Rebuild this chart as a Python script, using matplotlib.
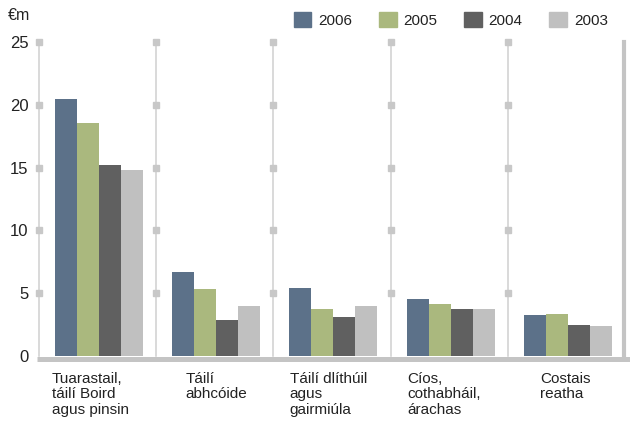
import numpy as np
import matplotlib.pyplot as plt
from matplotlib.patches import Patch

plt.rcParams['font.family'] = ['Liberation Sans', 'DejaVu Sans']

categories = ["Tuarastail,\ntáilí Boird\nagus pinsin", "Táilí\nabhcóide",
              "Táilí dlíthúil\nagus\ngairmiúla", "Cíos,\ncothabháil,\nárachas",
              "Costais\nreatha"]
label_off = [0.11, 0.25, 0.14, 0.14, 0.275]
years = ["2006", "2005", "2004", "2003"]
v2006 = [20.45, 6.7, 5.45, 4.55, 3.3]
v2005 = [18.55, 5.3, 3.75, 4.15, 3.35]
v2004 = [15.2, 2.9, 3.1, 3.75, 2.5]
v2003 = [14.8, 3.95, 4.0, 3.75, 2.35]
colors = ["#5c7189", "#aab87e", "#606060", "#c0c0c0"]

fig = plt.figure(figsize=(6.3, 4.23), dpi=100)
ax = fig.add_axes([39/630, 1-356/423, (625-39)/630, (356-42)/423])
ax.set_xlim(0, 5)
ax.set_ylim(0, 25)

x = np.arange(5)
w = 0.1875
for k, vals in enumerate([v2006, v2005, v2004, v2003]):
    ax.bar(x + 0.137 + k*w, vals, width=w, align="edge", color=colors[k],
           zorder=3, label=years[k])

# vertical guide lines with square markers
ticks = [5, 10, 15, 20, 25]
for i in range(5):
    ax.plot([i, i], [0, 25], color="#cfcfcf", lw=1.1, zorder=1, clip_on=False)
    ax.plot([i]*len(ticks), ticks, "s", color="#c8c8c8", ms=4, zorder=2, clip_on=False)
ax.plot([4.995, 4.995], [0, 25], color="#c4c4c4", lw=3, zorder=2, clip_on=False)
ax.plot([-0.02, 5.04], [-0.2, -0.2], color="#c4c4c4", lw=3.6, zorder=4,
        clip_on=False, solid_capstyle="butt")

for s in ax.spines.values():
    s.set_visible(False)
ax.set_xticks([])
ax.set_yticks([0, 5, 10, 15, 20, 25])
ax.tick_params(axis="y", length=0, pad=7.5, labelsize=12, labelcolor="#222222")

for i, c in enumerate(categories):
    ax.text(i + label_off[i], -1.3, c, ha="left", va="top", fontsize=11,
            color="#222222", linespacing=1.1)

fig.text(8/630, 1-16/423, "€m", fontsize=11.5, color="#222222", va="center")

handles = [Patch(color=c) for c in colors]
fig.legend(handles, years, ncol=4, loc="center right",
           bbox_to_anchor=(614/630, 1-20/423), frameon=False, fontsize=11,
           handlelength=1.15, handleheight=1.15, handletextpad=0.45,
           columnspacing=1.75, labelcolor="#222222", borderaxespad=0)

fig.savefig("out.png", dpi=100)
